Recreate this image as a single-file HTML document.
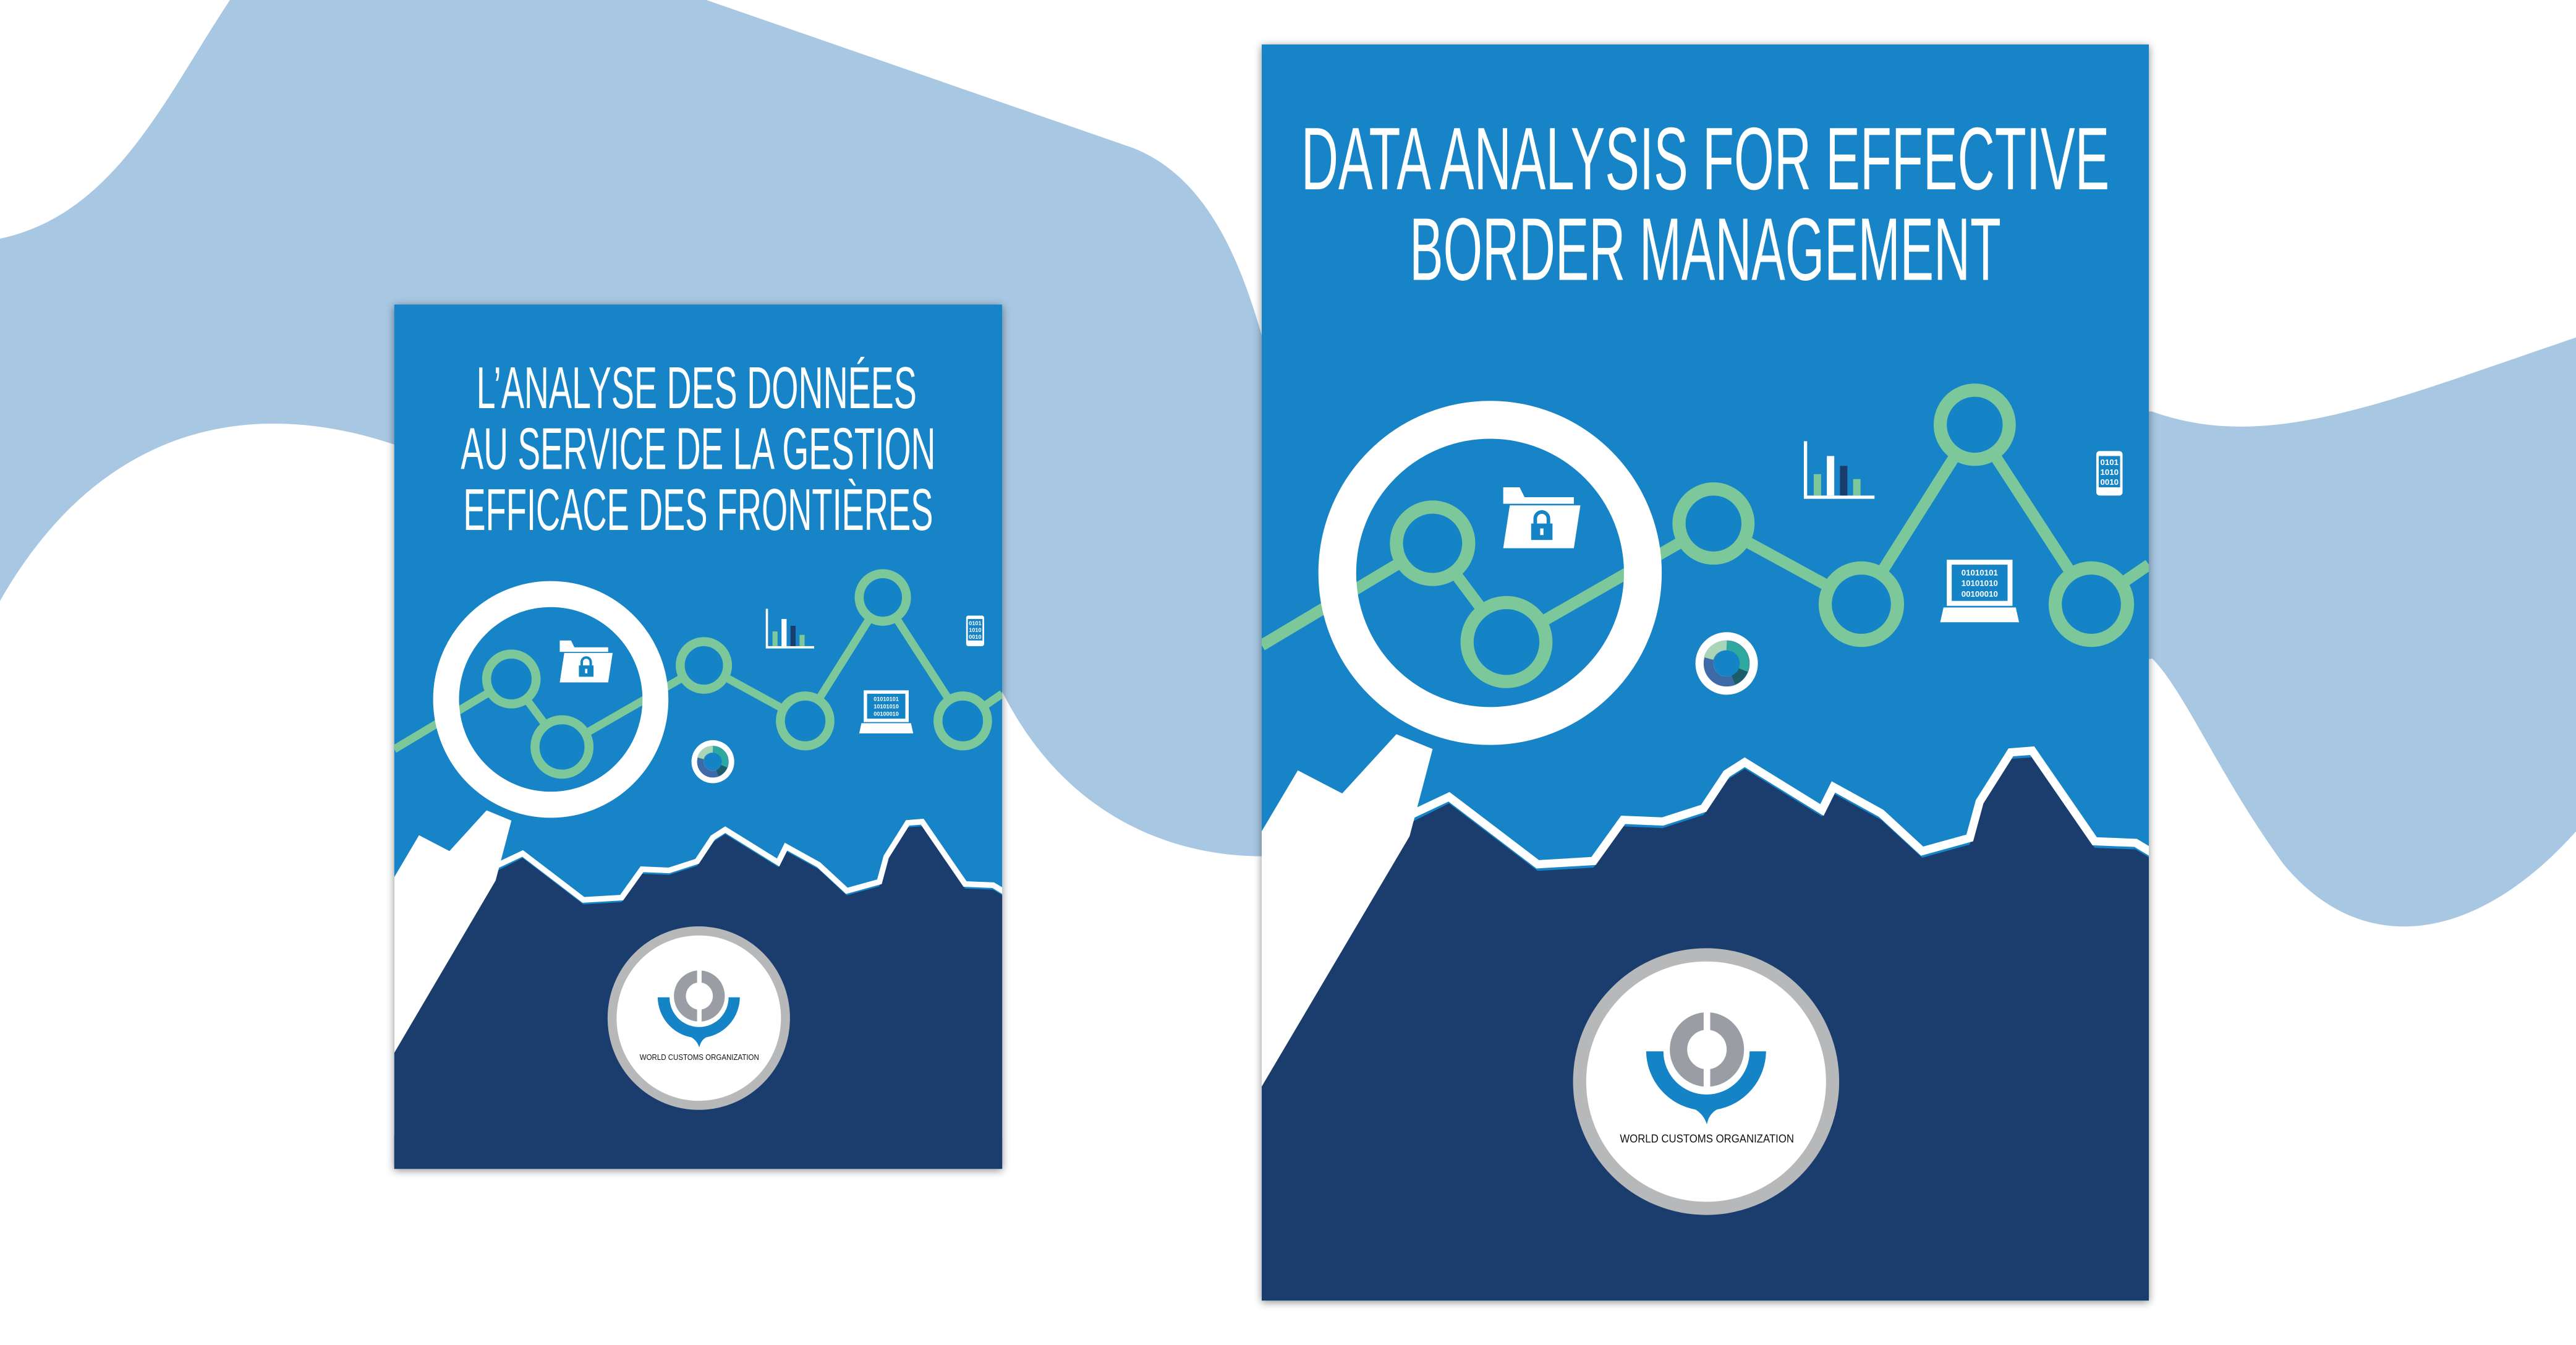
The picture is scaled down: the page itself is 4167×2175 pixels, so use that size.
<!DOCTYPE html>
<html><head><meta charset="utf-8"><style>html,body{margin:0;padding:0;background:#fff}svg{display:block}</style></head>
<body>
<svg width="4167" height="2175" viewBox="0 0 1568 817" preserveAspectRatio="none" xmlns="http://www.w3.org/2000/svg">
<defs>
<clipPath id="cl"><rect x="768" y="27" width="540" height="763"/></clipPath>
<filter id="sh" x="-10%" y="-10%" width="120%" height="120%"><feDropShadow dx="0" dy="1" stdDeviation="2.5" flood-color="#000" flood-opacity="0.45"/></filter>
<g id="art">
  <!-- green line -->
  <polyline points="768,392 872,330 917,390 1043,318 1133,367 1202,258 1273,367 1308,343" fill="none" stroke="#7dc89a" stroke-width="7"/>
  <!-- magnifier handle -->
  <polygon points="768,505 790,468 817,482 850,446 872,455 858,508 768,660" fill="#fff"/>
  <!-- nodes -->
  <g fill="#1584c6" stroke="#7dc89a" stroke-width="8">
    <circle cx="872" cy="330" r="22"/><circle cx="917" cy="390" r="24"/>
    <circle cx="1043" cy="318" r="21"/><circle cx="1133" cy="367" r="22"/>
    <circle cx="1202" cy="258" r="21"/><circle cx="1273" cy="367" r="22"/>
  </g>
  <!-- magnifier ring -->
  <circle cx="907" cy="348" r="93" fill="none" stroke="#fff" stroke-width="23"/>
  <!-- folder -->
  <path d="M915,296 h10 l3,6 h30 v4 h-43 z" fill="#fff"/>
  <polygon points="919,307 962,307 958,333 915,333" fill="#fff"/>
  <rect x="932" y="318" width="13" height="10" fill="#1584c6"/>
  <path d="M934.5,318 v-3 a4,4 0 0 1 8,0 v3" fill="none" stroke="#1584c6" stroke-width="2.2"/>
  <rect x="937.5" y="321" width="2" height="4" fill="#fff"/>
  <!-- bar chart -->
  <path d="M1099,268 V302 H1141" fill="none" stroke="#fff" stroke-width="2"/>
  <rect x="1104" y="288" width="4.5" height="13" fill="#7dc89a"/>
  <rect x="1112" y="277" width="4.5" height="24" fill="#fff"/>
  <rect x="1120" y="283" width="4.5" height="18" fill="#1a3d6e"/>
  <rect x="1128" y="291" width="4.5" height="10" fill="#7dc89a"/>
  <!-- laptop -->
  <rect x="1185" y="340" width="40" height="28" fill="#fff"/>
  <rect x="1188" y="343" width="34" height="22" fill="#1584c6"/>
  <text x="1205" y="349.5" font-family="Liberation Sans Narrow, Liberation Sans, sans-serif" font-size="5" fill="#fff" text-anchor="middle" font-weight="bold">01010101</text>
  <text x="1205" y="356" font-family="Liberation Sans Narrow, Liberation Sans, sans-serif" font-size="5" fill="#fff" text-anchor="middle" font-weight="bold">10101010</text>
  <text x="1205" y="362.5" font-family="Liberation Sans Narrow, Liberation Sans, sans-serif" font-size="5" fill="#fff" text-anchor="middle" font-weight="bold">00100010</text>
  <polygon points="1183,369 1227,369 1229,378 1181,378" fill="#fff"/>
  <!-- phone -->
  <rect x="1276" y="274" width="16" height="27" rx="2" fill="#fff"/>
  <rect x="1277.5" y="277" width="13" height="19" fill="#1584c6"/>
  <text x="1284" y="282.5" font-family="Liberation Sans Narrow, Liberation Sans, sans-serif" font-size="5" fill="#fff" text-anchor="middle" font-weight="bold">0101</text>
  <text x="1284" y="288.5" font-family="Liberation Sans Narrow, Liberation Sans, sans-serif" font-size="5" fill="#fff" text-anchor="middle" font-weight="bold">1010</text>
  <text x="1284" y="294.5" font-family="Liberation Sans Narrow, Liberation Sans, sans-serif" font-size="5" fill="#fff" text-anchor="middle" font-weight="bold">0010</text>
  <!-- donut -->
  <circle cx="1051" cy="403" r="19" fill="#fff"/>
  <circle cx="1051" cy="403" r="11" fill="none" stroke="#3f6aa8" stroke-width="6"/>
  <path d="M1051,392 A11,11 0 0 1 1061,407" fill="none" stroke="#2fa9a0" stroke-width="6"/>
  <path d="M1061,407 A11,11 0 0 1 1055,413" fill="none" stroke="#1d5d6a" stroke-width="6"/>
  <path d="M1040,400 A11,11 0 0 1 1051,392" fill="none" stroke="#a9d6b8" stroke-width="6"/>
  <circle cx="1051" cy="403" r="8" fill="#1584c6"/>
  <!-- mountains -->
  <polygon points="768,660 850,504 882,488 936,529 970,527 988,502 1012,503 1037,495 1051,474 1062,467 1109,496 1116,482 1145,498 1170,521 1199,513 1205,491 1224,461 1237,460 1275,515 1300,516 1310,522 1310,792 768,792" fill="#1a3d6e"/>
  <polyline points="848,500 882,484 936,525 970,523 988,498 1012,499 1037,491 1051,470 1062,463 1109,492 1116,478 1145,494 1170,517 1199,509 1205,487 1224,457 1237,456 1275,511 1300,512 1310,518" fill="none" stroke="#fff" stroke-width="5"/>
  <!-- handle over mountains -->
  <polygon points="768,505 790,468 817,482 850,446 872,455 858,508 768,660" fill="#fff"/>
</g>
<g id="logo">
  <circle cx="1038.5" cy="657" r="77" fill="#fff" stroke="#b7b8ba" stroke-width="8"/>
  <path d="M1002,638.6 H1012.5 A26,26 0 0 0 1065,638.6 H1075 A36.5,36.5 0 0 1 1045,674 Q1040,677 1039,683 Q1037,677 1032,674 A36.5,36.5 0 0 1 1002,638.6 Z" fill="#1584c6"/>
  <circle cx="1039" cy="637.5" r="17.3" fill="none" stroke="#9a9ea4" stroke-width="10.6"/>
  <rect x="1037" y="613" width="4" height="50" fill="#fff"/>
  <text x="1039" y="694" font-family="Liberation Sans, sans-serif" font-size="7" fill="#111" text-anchor="middle" textLength="106" lengthAdjust="spacingAndGlyphs">WORLD CUSTOMS ORGANIZATION</text>
</g>
</defs>

<!-- background blob -->
<path d="M0,145 C70,130 100,60 140,0 L430,0 L690,90 C740,110 760,170 775,230 L1310,250 C1380,275 1450,245 1568,205 L1568,505 C1510,570 1440,585 1390,525 C1350,470 1330,420 1310,400 L775,520 C720,522 650,500 610,420 L240,270 C150,240 60,260 0,365 Z" fill="#a7c7e2"/>

<!-- large cover -->
<rect x="768" y="27" width="540" height="763" fill="#1584c6" filter="url(#sh)"/>
<g clip-path="url(#cl)"><use href="#art"/></g>
<use href="#logo"/>
<text x="1038" y="115" font-family="Liberation Sans Narrow, Liberation Sans, sans-serif" font-size="54" fill="#fff" text-anchor="middle" textLength="492" lengthAdjust="spacingAndGlyphs">DATA ANALYSIS FOR EFFECTIVE</text>
<text x="1038" y="170" font-family="Liberation Sans Narrow, Liberation Sans, sans-serif" font-size="54" fill="#fff" text-anchor="middle" textLength="360" lengthAdjust="spacingAndGlyphs">BORDER MANAGEMENT</text>

<!-- small cover -->
<rect x="240" y="185" width="370" height="525" fill="#1584c6" filter="url(#sh)"/>
<g transform="translate(240,185) scale(0.6852,0.688) translate(-768,-27)">
  <g clip-path="url(#cl)"><g transform="translate(0,27.6)"><use href="#art"/></g></g>
  <use href="#logo"/>
</g>
<rect x="240" y="690" width="370" height="20" fill="#1a3d6e"/>
<text x="424" y="248" font-family="Liberation Sans Narrow, Liberation Sans, sans-serif" font-size="36" fill="#fff" text-anchor="middle" textLength="268" lengthAdjust="spacingAndGlyphs">L’ANALYSE DES DONNÉES</text>
<text x="425" y="285" font-family="Liberation Sans Narrow, Liberation Sans, sans-serif" font-size="36" fill="#fff" text-anchor="middle" textLength="289" lengthAdjust="spacingAndGlyphs">AU SERVICE DE LA GESTION</text>
<text x="425" y="322" font-family="Liberation Sans Narrow, Liberation Sans, sans-serif" font-size="36" fill="#fff" text-anchor="middle" textLength="286" lengthAdjust="spacingAndGlyphs">EFFICACE DES FRONTIÈRES</text>
</svg>
</body></html>
